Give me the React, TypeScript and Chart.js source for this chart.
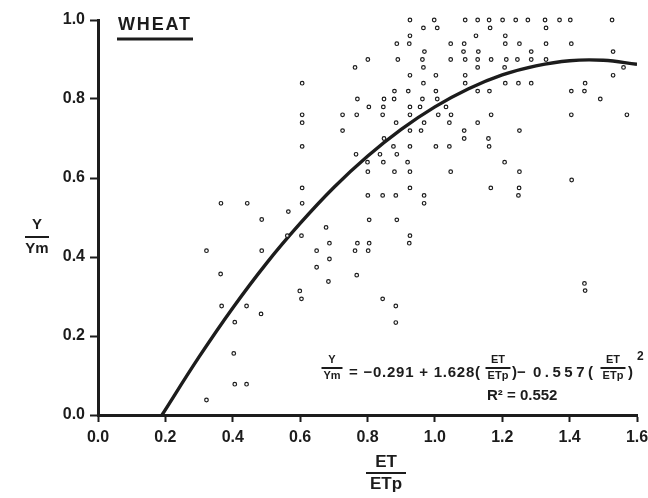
import { useEffect, useRef } from "react";
import { Chart, registerables } from "chart.js";

Chart.register(...registerables);

// Observed points: ET/ETp (x) and Y/Ym (y)
const etRatio = [
  0.926, 0.998, 0.966, 1.007, 0.926, 0.887, 0.924, 1.047, 0.969, 0.801,
  0.89, 0.963, 1.047, 0.763, 0.966, 0.926, 1.003, 0.606, 0.966, 0.88,
  0.921, 1.003, 0.77, 0.849, 0.879, 0.963, 1.007, 0.804, 0.847, 0.926,
  0.956, 1.033, 0.606, 0.726, 0.768, 0.845, 0.926, 1.01, 1.048, 0.606,
  0.885, 0.968, 1.043, 0.726, 0.926, 0.959, 0.849, 0.606, 0.877, 0.926,
  1.003, 1.043, 0.766, 0.837, 0.887, 0.8, 0.847, 0.919,
  1.09, 1.127, 1.161, 1.201, 1.24, 1.276, 1.327, 1.37, 1.402, 1.526,
  1.164, 1.33, 1.122, 1.209, 1.087, 1.209, 1.251, 1.33, 1.405, 1.085,
  1.129, 1.286, 1.529, 1.09, 1.127, 1.167, 1.212, 1.245, 1.286, 1.33,
  1.127, 1.207, 1.56, 1.09, 1.529, 1.09, 1.209, 1.248, 1.286, 1.446,
  1.127, 1.162, 1.405, 1.444, 1.491, 1.167, 1.405, 1.57, 1.127, 1.087,
  1.251, 1.087, 1.159, 1.161, 1.207,
  0.365, 0.443, 0.486, 0.322, 0.486, 0.364, 0.367, 0.441, 0.484,
  0.801, 0.88, 0.926, 1.047, 0.606, 0.926, 0.801, 0.845, 0.884, 0.968,
  0.606, 0.968, 0.565, 0.805, 0.887, 0.677, 0.562, 0.604, 0.926, 0.687,
  0.77, 0.805, 0.924, 0.649, 0.763, 0.802, 0.687, 0.649, 0.768, 0.684,
  0.599, 0.604, 0.845, 0.884,
  1.251, 1.406, 1.166, 1.25, 1.248, 1.444, 1.446,
  0.406, 0.403, 0.406, 0.441, 0.322, 0.884,
];

const yieldRatio = [
  1.0, 1.0, 0.98, 0.98, 0.96, 0.94, 0.94, 0.94, 0.92, 0.9,
  0.9, 0.9, 0.9, 0.88, 0.88, 0.86, 0.86, 0.84, 0.84, 0.82,
  0.82, 0.82, 0.8, 0.8, 0.8, 0.8, 0.8, 0.78, 0.78, 0.78,
  0.78, 0.78, 0.76, 0.76, 0.76, 0.76, 0.76, 0.76, 0.76, 0.74,
  0.74, 0.74, 0.74, 0.72, 0.72, 0.72, 0.7, 0.68, 0.68, 0.68,
  0.68, 0.68, 0.66, 0.66, 0.66, 0.64, 0.64, 0.64,
  1.0, 1.0, 1.0, 1.0, 1.0, 1.0, 1.0, 1.0, 1.0, 1.0,
  0.98, 0.98, 0.96, 0.96, 0.94, 0.94, 0.94, 0.94, 0.94, 0.92,
  0.92, 0.92, 0.92, 0.9, 0.9, 0.9, 0.9, 0.9, 0.9, 0.9,
  0.88, 0.88, 0.88, 0.86, 0.86, 0.84, 0.84, 0.84, 0.84, 0.84,
  0.82, 0.82, 0.82, 0.82, 0.8, 0.76, 0.76, 0.76, 0.74, 0.72,
  0.72, 0.7, 0.7, 0.68, 0.64,
  0.536, 0.536, 0.495, 0.416, 0.416, 0.357, 0.276, 0.276, 0.256,
  0.616, 0.616, 0.616, 0.616, 0.575, 0.575, 0.556, 0.556, 0.556, 0.556,
  0.536, 0.536, 0.515, 0.494, 0.494, 0.475, 0.454, 0.454, 0.454, 0.435,
  0.435, 0.435, 0.435, 0.416, 0.416, 0.416, 0.395, 0.374, 0.354, 0.338,
  0.314, 0.294, 0.294, 0.276,
  0.616, 0.595, 0.575, 0.575, 0.556, 0.333, 0.315,
  0.235, 0.156, 0.078, 0.078, 0.038, 0.234,
];

// Fitted curve
const curveEt = [0.19, 0.3, 0.4, 0.5, 0.6, 0.7, 0.8, 0.9, 1.0, 1.1, 1.2, 1.3, 1.4, 1.5, 1.6];
const curveYield = [0.0, 0.147, 0.271, 0.384, 0.485, 0.576, 0.655, 0.723, 0.78, 0.826, 0.861, 0.884, 0.897, 0.898, 0.888];

const xTickValues = [0, 0.2, 0.4, 0.6, 0.8, 1.0, 1.2, 1.4, 1.6];
const yTickValues = [0, 0.2, 0.4, 0.6, 0.8, 1.0];

const INK = "#1c1c1c";
const FAMILY = "'Liberation Sans', Arial, sans-serif";

function frac(ctx: CanvasRenderingContext2D, num: string, den: string, cx: number, ly: number, w: number, size: number, gap: number) {
  ctx.font = `bold ${size}px ${FAMILY}`;
  (ctx as any).letterSpacing = "0px";
  ctx.textAlign = "center";
  ctx.textBaseline = "middle";
  ctx.fillText(num, cx, ly - gap);
  ctx.fillText(den, cx, ly + gap);
  ctx.lineWidth = 2;
  ctx.beginPath();
  ctx.moveTo(cx - w / 2, ly);
  ctx.lineTo(cx + w / 2, ly);
  ctx.stroke();
}

// draw text so that it spans [left, right] by adjusting letter spacing
function spanText(ctx: CanvasRenderingContext2D, text: string, left: number, right: number, y: number, size: number) {
  ctx.font = `bold ${size}px ${FAMILY}`;
  (ctx as any).letterSpacing = "0px";
  ctx.textAlign = "left";
  ctx.textBaseline = "middle";
  const raw = ctx.measureText(text).width;
  const n = Array.from(text).length;
  const sp = n > 1 ? Math.max(0, (right - left - raw) / (n - 1)) : 0;
  (ctx as any).letterSpacing = `${sp}px`;
  ctx.fillText(text, left, y);
  (ctx as any).letterSpacing = "0px";
}

const annotations = {
  id: "annotations",
  afterDraw(chart: any) {
    const ctx: CanvasRenderingContext2D = chart.ctx;
    ctx.save();
    ctx.fillStyle = INK;
    ctx.strokeStyle = INK;

    // WHEAT label
    spanText(ctx, "WHEAT", 118, 190, 25, 18);
    ctx.lineWidth = 3;
    ctx.beginPath();
    ctx.moveTo(117, 39);
    ctx.lineTo(193, 39);
    ctx.stroke();

    // axis titles
    frac(ctx, "Y", "Ym", 37, 237, 24, 15, 12);
    frac(ctx, "ET", "ETp", 386, 473, 40, 17, 11);

    // regression equation
    const eqY = 373;
    frac(ctx, "Y", "Ym", 332, 368, 21, 11, 8);
    spanText(ctx, "= \u22120.291 + 1.628(", 349, 480, eqY, 15);
    frac(ctx, "ET", "ETp", 498, 368, 25, 11, 8);
    spanText(ctx, ")\u2212", 512, 524, eqY, 15);
    spanText(ctx, "0.557(", 533, 593, eqY, 15);
    frac(ctx, "ET", "ETp", 613, 368, 25, 11, 8);
    spanText(ctx, ")", 628, 633, eqY, 15);
    ctx.font = `bold 12px ${FAMILY}`;
    ctx.fillText("2", 637, 357);
    spanText(ctx, "R\u00B2 = 0.552", 487, 546, 396, 15);
    ctx.restore();
  },
};

export default function App() {
  const ref = useRef<HTMLCanvasElement | null>(null);

  useEffect(() => {
    if (!ref.current) return;
    const tickFont = { family: FAMILY, weight: "bold" as const, size: 16 };
    const chart = new Chart(ref.current, {
      type: "scatter",
      data: {
        datasets: [
          {
            type: "scatter",
            data: etRatio.map((v, i) => ({ x: v, y: yieldRatio[i] })),
            pointRadius: 1.8,
            pointBorderWidth: 1.2,
            pointBorderColor: INK,
            pointBackgroundColor: "rgba(255,255,255,0.9)",
            clip: false as any,
          },
          {
            type: "line",
            data: curveEt.map((v, i) => ({ x: v, y: curveYield[i] })),
            borderColor: INK,
            borderWidth: 3.4,
            pointRadius: 0,
            tension: 0.4,
            fill: false,
          },
        ],
      },
      options: {
        animation: false,
        responsive: false,
        devicePixelRatio: 1,
        layout: { padding: { left: 0, top: 20, right: 11, bottom: 0 } },
        plugins: { legend: { display: false }, tooltip: { enabled: false } },
        scales: {
          x: {
            type: "linear",
            min: 0,
            max: 1.6,
            afterBuildTicks: (s: any) => {
              s.ticks = xTickValues.map((v) => ({ value: v }));
            },
            afterFit: (s: any) => {
              s.height = 83;
              s.paddingLeft = 0;
              s.paddingRight = 0;
            },
            ticks: {
              color: INK,
              font: tickFont,
              padding: 6,
              maxRotation: 0,
              callback: (v: any) => Number(v).toFixed(1),
            },
            grid: {
              drawOnChartArea: false,
              drawTicks: true,
              tickLength: 7,
              tickColor: INK,
              tickWidth: 2,
            },
            border: { display: true, color: INK, width: 3 },
          },
          y: {
            type: "linear",
            min: 0,
            max: 1.0,
            afterBuildTicks: (s: any) => {
              s.ticks = yTickValues.map((v) => ({ value: v }));
            },
            afterFit: (s: any) => {
              s.width = 98;
              s.paddingTop = 0;
              s.paddingBottom = 0;
            },
            ticks: {
              color: INK,
              font: tickFont,
              padding: 5,
              callback: (v: any) => Number(v).toFixed(1),
            },
            grid: {
              drawOnChartArea: false,
              drawTicks: true,
              tickLength: 8,
              tickColor: INK,
              tickWidth: 2,
            },
            border: { display: true, color: INK, width: 3 },
          },
        },
      },
      plugins: [annotations],
    });
    return () => chart.destroy();
  }, []);

  return (
    <div style={{ position: "absolute", left: 0, top: 0, width: 648, height: 498, background: "#fff" }}>
      <canvas ref={ref} width={648} height={498} />
    </div>
  );
}
